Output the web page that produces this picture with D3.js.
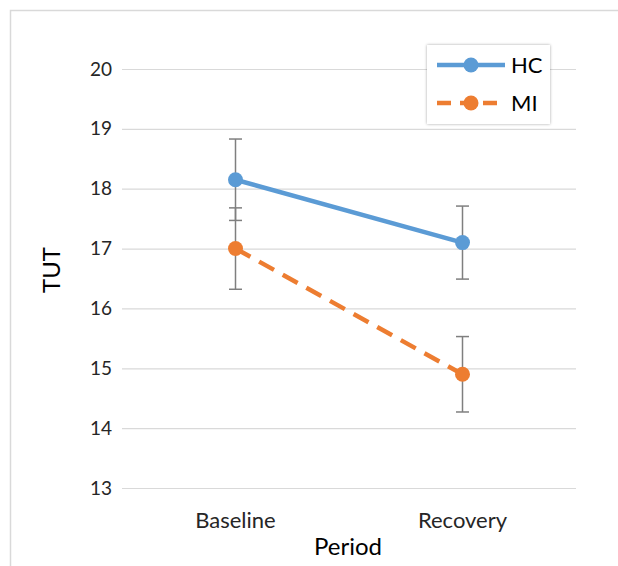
<!DOCTYPE html>
<html><head><meta charset="utf-8">
<script src="https://cdn.jsdelivr.net/npm/d3@7"></script>
<style>body{margin:0;background:#fff;} svg{display:block;font-family:Lato,"Open Sans",sans-serif;}</style>
</head><body>
<svg id="c" width="618" height="566"></svg>
<script>
const categories = ["Baseline", "Recovery"];
const seriesNames = ["HC", "MI"];
const hcValues = [18.15, 17.10];
const hcErrors = [0.68, 0.61];
const miValues = [17.00, 14.90];
const miErrors = [0.68, 0.63];
const yTicks = [13, 14, 15, 16, 17, 18, 19, 20];

(function () {
const svg = d3.select("#c");
const txt = "#262626";
// outer frame
svg.append("rect").attr("x", 10.5).attr("y", 10.5).attr("width", 700).attr("height", 700)
  .attr("fill", "#fff").attr("stroke", "#d9d9d9").attr("stroke-width", 1.5);

const pLeft = 122, pRight = 576, pTop = 69, pBottom = 488;
const x = d3.scaleBand().domain(categories).range([pLeft, pRight]);
const y = d3.scaleLinear().domain([13, 20]).range([pBottom, pTop]);

// gridlines
const yAxis = d3.axisLeft(y).tickValues(yTicks).tickFormat(d3.format("d")).tickSize(-(pRight - pLeft)).tickPadding(10);
const gy = svg.append("g").attr("transform", `translate(${pLeft},0)`).call(yAxis);
gy.select(".domain").remove();
gy.selectAll(".tick line").attr("stroke", "#d9d9d9").attr("stroke-width", 1.2);
gy.selectAll(".tick text").attr("font-size", 19).attr("fill", txt).attr("font-family", "Lato,sans-serif");

const xAxis = d3.axisBottom(x).tickSize(0).tickPadding(24);
const gx = svg.append("g").attr("transform", `translate(0,${pBottom})`).call(xAxis);
gx.select(".domain").remove();
gx.selectAll(".tick text").attr("font-size", 22).attr("fill", txt).attr("font-family", "Lato,sans-serif");

svg.append("text").attr("x", 348).attr("y", 555).attr("text-anchor", "middle")
  .attr("font-size", 24).attr("fill", "#000").text("Period");
svg.append("text").attr("transform", "translate(60,270) rotate(-90)").attr("text-anchor", "middle")
  .attr("font-size", 24).attr("fill", "#000").text("TUT");

const cx = d => x(d) + x.bandwidth() / 2;
const series = [
  {name: seriesNames[0], vals: hcValues, errs: hcErrors, color: "#5B9BD5", dash: null},
  {name: seriesNames[1], vals: miValues, errs: miErrors, color: "#ED7D31", dash: "17,10"}
];

// error bars
series.forEach(s => {
  const g = svg.append("g").attr("stroke", "#7f7f7f").attr("stroke-width", 1.5);
  categories.forEach((c, i) => {
    const xc = cx(c), hi = y(s.vals[i] + s.errs[i]), lo = y(s.vals[i] - s.errs[i]);
    g.append("line").attr("x1", xc).attr("x2", xc).attr("y1", hi).attr("y2", lo);
    g.append("line").attr("x1", xc - 6.5).attr("x2", xc + 6.5).attr("y1", hi).attr("y2", hi);
    g.append("line").attr("x1", xc - 6.5).attr("x2", xc + 6.5).attr("y1", lo).attr("y2", lo);
  });
});

const line = d3.line().x(d => cx(d.c)).y(d => y(d.v));
series.slice().reverse().forEach(s => {
  const pts = categories.map((c, i) => ({c, v: s.vals[i]}));
  svg.append("path").datum(pts).attr("d", line).attr("fill", "none").attr("stroke", s.color)
    .attr("stroke-width", 4.5).attr("stroke-dasharray", s.dash);
  svg.selectAll(null).data(pts).enter().append("circle").attr("cx", d => cx(d.c)).attr("cy", d => y(d.v))
    .attr("r", 7.5).attr("fill", s.color);
});

// legend
const defs = svg.append("defs");
const f = defs.append("filter").attr("id", "sh").attr("x", "-20%").attr("y", "-20%").attr("width", "140%").attr("height", "140%");
f.append("feDropShadow").attr("dx", 0).attr("dy", 0).attr("stdDeviation", 1.8).attr("flood-color", "#000").attr("flood-opacity", 0.35);
const lg = svg.append("g");
lg.append("rect").attr("x", 427).attr("y", 45).attr("width", 123).attr("height", 79).attr("fill", "#fff").attr("filter", "url(#sh)");
series.forEach((s, i) => {
  const yy = 65 + i * 38;
  lg.append("line").attr("x1", 437).attr("x2", 505).attr("y1", yy).attr("y2", yy)
    .attr("stroke", s.color).attr("stroke-width", 4.5).attr("stroke-dasharray", s.dash ? "14,9" : null);
  lg.append("circle").attr("cx", 471).attr("cy", yy).attr("r", 7.5).attr("fill", s.color);
  lg.append("text").attr("x", 511).attr("y", yy + 8).attr("font-size", 22).attr("fill", "#000").text(s.name);
});
})();
</script>
</body></html>
